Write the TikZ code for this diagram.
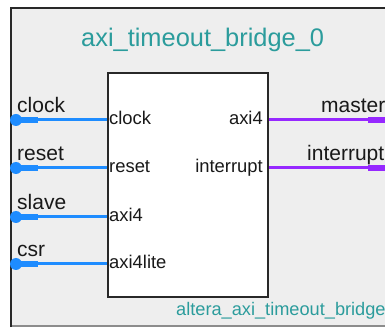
\documentclass[tikz,border=0pt]{standalone}
\usepackage{fontspec}
\setmainfont{Liberation Sans}
\definecolor{bgc}{RGB}{238,238,238}
\definecolor{wireblue}{RGB}{30,140,255}
\definecolor{wirepurple}{RGB}{150,40,255}
\definecolor{tealtext}{RGB}{43,156,156}
\definecolor{edgedark}{RGB}{40,40,40}
\begin{document}
\begin{tikzpicture}[x=1pt,y=-1pt,
  outerlabel/.style={font=\fontsize{21}{23}\selectfont, text=black!90, inner sep=0},
  innerlabel/.style={font=\fontsize{18.4}{20}\selectfont, text=black!90, inner sep=0},
  titletext/.style={font=\fontsize{25.4}{28}\selectfont, text=tealtext, inner sep=0},
  subtext/.style={font=\fontsize{18.2}{20}\selectfont, text=tealtext, inner sep=0},
  corebox/.style={draw=edgedark, fill=white, line width=2, minimum width=160, minimum height=224, inner sep=0},
  bluewire/.style={draw=wireblue, line width=3},
  bluestub/.style={draw=wireblue, line width=6},
  purplewire/.style={draw=wirepurple, line width=3},
  purplestub/.style={draw=wirepurple, line width=6}]
\useasboundingbox (0,0) rectangle (385,328);
\clip (0,0) rectangle (385,328);
\fill[white] (0,0) rectangle (385,328);
% outer component frame
\fill[bgc] (11,8) rectangle (400,326);
\draw[line width=1.3, black!45] (11,326) -- (400,326);
\draw[line width=2, edgedark] (11,327) -- (11,8) -- (400,8);
% title and type
\node[titletext, anchor=base west] (title) at (81,47) {axi\_timeout\_bridge\_0};
\node[subtext, anchor=base west] (typename) at (176,315) {altera\_axi\_timeout\_bridge};
% core box
\node[corebox, anchor=north west] (core) at (107,72) {};
% left ports
\foreach \nm/\yy/\outer/\inner in {clk/120/clock/clock, rst/168/reset/reset, slv/217/slave/axi4, csr/264/csr/axi4lite}{
  \coordinate (e\nm) at (11,\yy);
  \draw[bluewire] (e\nm) -- (e\nm -| core.west);
  \draw[bluestub] (e\nm) -- ++(27,0);
  \fill[wireblue] ([xshift=5]e\nm) circle (6);
  \node[outerlabel, anchor=base west] (o\nm) at (17,\yy-7) {\outer};
  \node[innerlabel, anchor=base west] (i\nm) at (109,\yy+5) {\inner};
}
% right ports
\foreach \nm/\yy/\outer/\inner/\ox in {mst/120/master/axi4/321, irq/168/interrupt/interrupt/307}{
  \coordinate (e\nm) at (385,\yy);
  \draw[purplewire] (e\nm -| core.east) -- (e\nm);
  \draw[purplestub] ([xshift=-17]e\nm) -- (e\nm);
  \node[outerlabel, anchor=base west] (o\nm) at (\ox,\yy-7) {\outer};
  \node[innerlabel, anchor=base east] (i\nm) at (263,\yy+5) {\inner};
}
\end{tikzpicture}
\end{document}
